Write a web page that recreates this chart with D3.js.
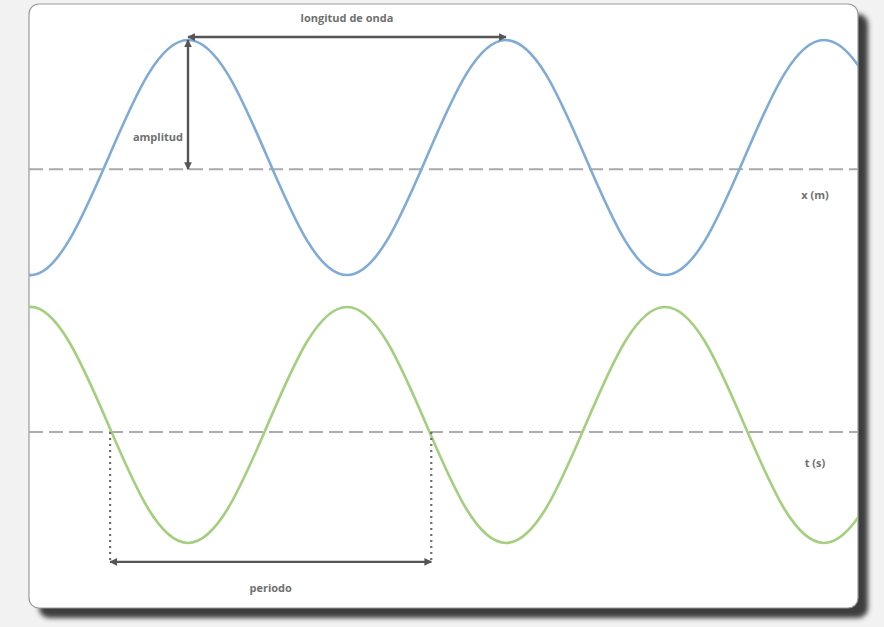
<!DOCTYPE html>
<html>
<head>
<meta charset="utf-8">
<script src="https://cdn.jsdelivr.net/npm/d3@7"></script>
<style>
    body { margin: 0; background: #f2f2f2; }
    #wave-chart text { font-family: "Open Sans", sans-serif; font-weight: 700; fill: #707070; }
</style>
</head>
<body>
<div id="wave-chart"></div>
<script>
/* * * * * * * * * * * * *
 *   Wave diagram (x, t)   *
 * * * * * * * * * * * * */

// sample positions, in wavelengths from the left edge of the card
const samplePos = [-0.125, 0, 0.125, 0.25, 0.375, 0.5, 0.625, 0.75, 0.875,
    1, 1.125, 1.25, 1.375, 1.5, 1.625, 1.75, 1.875,
    2, 2.125, 2.25, 2.375, 2.5, 2.625, 2.75];

// displacement (peak = 1, trough = -1)
const waveSpace = [-0.71, -1, -0.71, 0, 0.71, 1, 0.71, 0, -0.71,
    -1, -0.71, 0, 0.71, 1, 0.71, 0, -0.71,
    -1, -0.71, 0, 0.71, 1, 0.71, 0];
const waveTime = [0.71, 1, 0.71, 0, -0.71, -1, -0.71, 0, 0.71,
    1, 0.71, 0, -0.71, -1, -0.71, 0, 0.71,
    1, 0.71, 0, -0.71, -1, -0.71, 0];

// dashed axis levels
const baseSpace = -0.1;
const baseTime = -0.06;

// annotations
const wavelengthSpan = [0.5, 1.5];
const amplitudeSpan = [1, baseSpace];
const periodSpan = [0.255, 1.265];
const labels = ["longitud de onda", "amplitud", "periodo", "x (m)", "t (s)"];

class WaveDiagram {
    constructor(_parentElement) {
        this.parentElement = _parentElement;
        this.initVis();
    }

    initVis() {
        let vis = this;

        vis.width = 884;
        vis.height = 627;
        vis.card = { left: 29, top: 4, right: 858, bottom: 608 };

        vis.svg = d3.select("#" + vis.parentElement)
            .append("svg")
            .attr("width", vis.width)
            .attr("height", vis.height);

        let defs = vis.svg.append("defs");

        defs.append("filter")
            .attr("id", "shadow-blur")
            .attr("x", "-10%").attr("y", "-10%")
            .attr("width", "120%").attr("height", "120%")
            .append("feGaussianBlur")
            .attr("stdDeviation", 2.5);

        defs.append("clipPath")
            .attr("id", "card-clip")
            .append("rect")
            .attr("x", vis.card.left)
            .attr("y", vis.card.top)
            .attr("width", vis.card.right - vis.card.left)
            .attr("height", vis.card.bottom - vis.card.top)
            .attr("rx", 10);

        // arrow heads
        ["start", "end"].forEach(kind => {
            defs.append("marker")
                .attr("id", "arrow-" + kind)
                .attr("viewBox", "0 0 10 10")
                .attr("refX", kind === "end" ? 9 : 1)
                .attr("refY", 5)
                .attr("markerWidth", 3.2)
                .attr("markerHeight", 3.2)
                .attr("orient", "auto")
                .append("path")
                .attr("d", kind === "end" ? "M0,0L10,5L0,10z" : "M10,0L0,5L10,10z")
                .attr("fill", "#555");
        });

        // card shadow + card
        vis.svg.append("rect")
            .attr("x", vis.card.left + 10)
            .attr("y", vis.card.top + 10)
            .attr("width", vis.card.right - vis.card.left)
            .attr("height", vis.card.bottom - vis.card.top)
            .attr("rx", 10)
            .attr("fill", "#3e3e3e")
            .attr("filter", "url(#shadow-blur)");

        vis.svg.append("rect")
            .attr("x", vis.card.left)
            .attr("y", vis.card.top)
            .attr("width", vis.card.right - vis.card.left)
            .attr("height", vis.card.bottom - vis.card.top)
            .attr("rx", 10)
            .attr("fill", "#fff")
            .attr("stroke", "#9a9a9a")
            .attr("stroke-width", 1.2);

        vis.plot = vis.svg.append("g").attr("clip-path", "url(#card-clip)");

        // scales
        vis.x = d3.scaleLinear().domain([0, 2.5]).range([29, 824]);
        vis.yTop = d3.scaleLinear().domain([-1, 1]).range([275, 40]);
        vis.yBot = d3.scaleLinear().domain([-1, 1]).range([543, 307]);

        vis.wrangleData();
    }

    wrangleData() {
        let vis = this;
        vis.spaceData = samplePos.map((p, i) => ({ pos: p, val: waveSpace[i] }));
        vis.timeData = samplePos.map((p, i) => ({ pos: p, val: waveTime[i] }));
        vis.updateVis();
    }

    updateVis() {
        let vis = this;

        // dashed axes
        [[vis.yTop, baseSpace], [vis.yBot, baseTime]].forEach(([y, b]) => {
            vis.plot.append("line")
                .attr("x1", vis.card.left).attr("x2", vis.card.right)
                .attr("y1", y(b)).attr("y2", y(b))
                .attr("stroke", "#ababab")
                .attr("stroke-width", 2)
                .attr("stroke-dasharray", "14,6");
        });

        // waves
        let lineTop = d3.line().x(d => vis.x(d.pos)).y(d => vis.yTop(d.val)).curve(d3.curveNatural);
        let lineBot = d3.line().x(d => vis.x(d.pos)).y(d => vis.yBot(d.val)).curve(d3.curveNatural);

        vis.plot.append("path")
            .datum(vis.spaceData)
            .attr("d", lineTop)
            .attr("fill", "none")
            .attr("stroke", "#7fabd6")
            .attr("stroke-width", 2.6);

        vis.plot.append("path")
            .datum(vis.timeData)
            .attr("d", lineBot)
            .attr("fill", "none")
            .attr("stroke", "#a4cf7e")
            .attr("stroke-width", 2.6);

        // period guides (dotted)
        periodSpan.forEach(p => {
            vis.svg.append("line")
                .attr("x1", vis.x(p)).attr("x2", vis.x(p))
                .attr("y1", vis.yBot(baseTime)).attr("y2", vis.yBot(-1.16))
                .attr("stroke", "#6e6e6e")
                .attr("stroke-width", 2.2)
                .attr("stroke-dasharray", "2,4");
        });

        // arrows
        let arrow = (x1, y1, x2, y2) => vis.svg.append("line")
            .attr("x1", x1).attr("y1", y1).attr("x2", x2).attr("y2", y2)
            .attr("stroke", "#555")
            .attr("stroke-width", 2.4)
            .attr("marker-start", "url(#arrow-start)")
            .attr("marker-end", "url(#arrow-end)");

        arrow(vis.x(wavelengthSpan[0]), vis.yTop(1.025), vis.x(wavelengthSpan[1]), vis.yTop(1.025));
        arrow(vis.x(0.5), vis.yTop(amplitudeSpan[0]), vis.x(0.5), vis.yTop(amplitudeSpan[1]));
        arrow(vis.x(periodSpan[0]), vis.yBot(-1.16), vis.x(periodSpan[1]), vis.yBot(-1.16));

        // labels
        let label = (txt, x, y, anchor) => vis.svg.append("text")
            .attr("x", x).attr("y", y)
            .attr("text-anchor", anchor)
            .attr("font-size", 11)
            .text(txt);

        label(labels[0], vis.x(1), 22, "middle");
        label(labels[1], vis.x(0.5) - 5, 141, "end");
        label(labels[2], (vis.x(periodSpan[0]) + vis.x(periodSpan[1])) / 2, 592, "middle");
        label(labels[3], 815, 199, "middle");
        label(labels[4], 815, 467, "middle");
    }
}

new WaveDiagram("wave-chart");
</script>
</body>
</html>
